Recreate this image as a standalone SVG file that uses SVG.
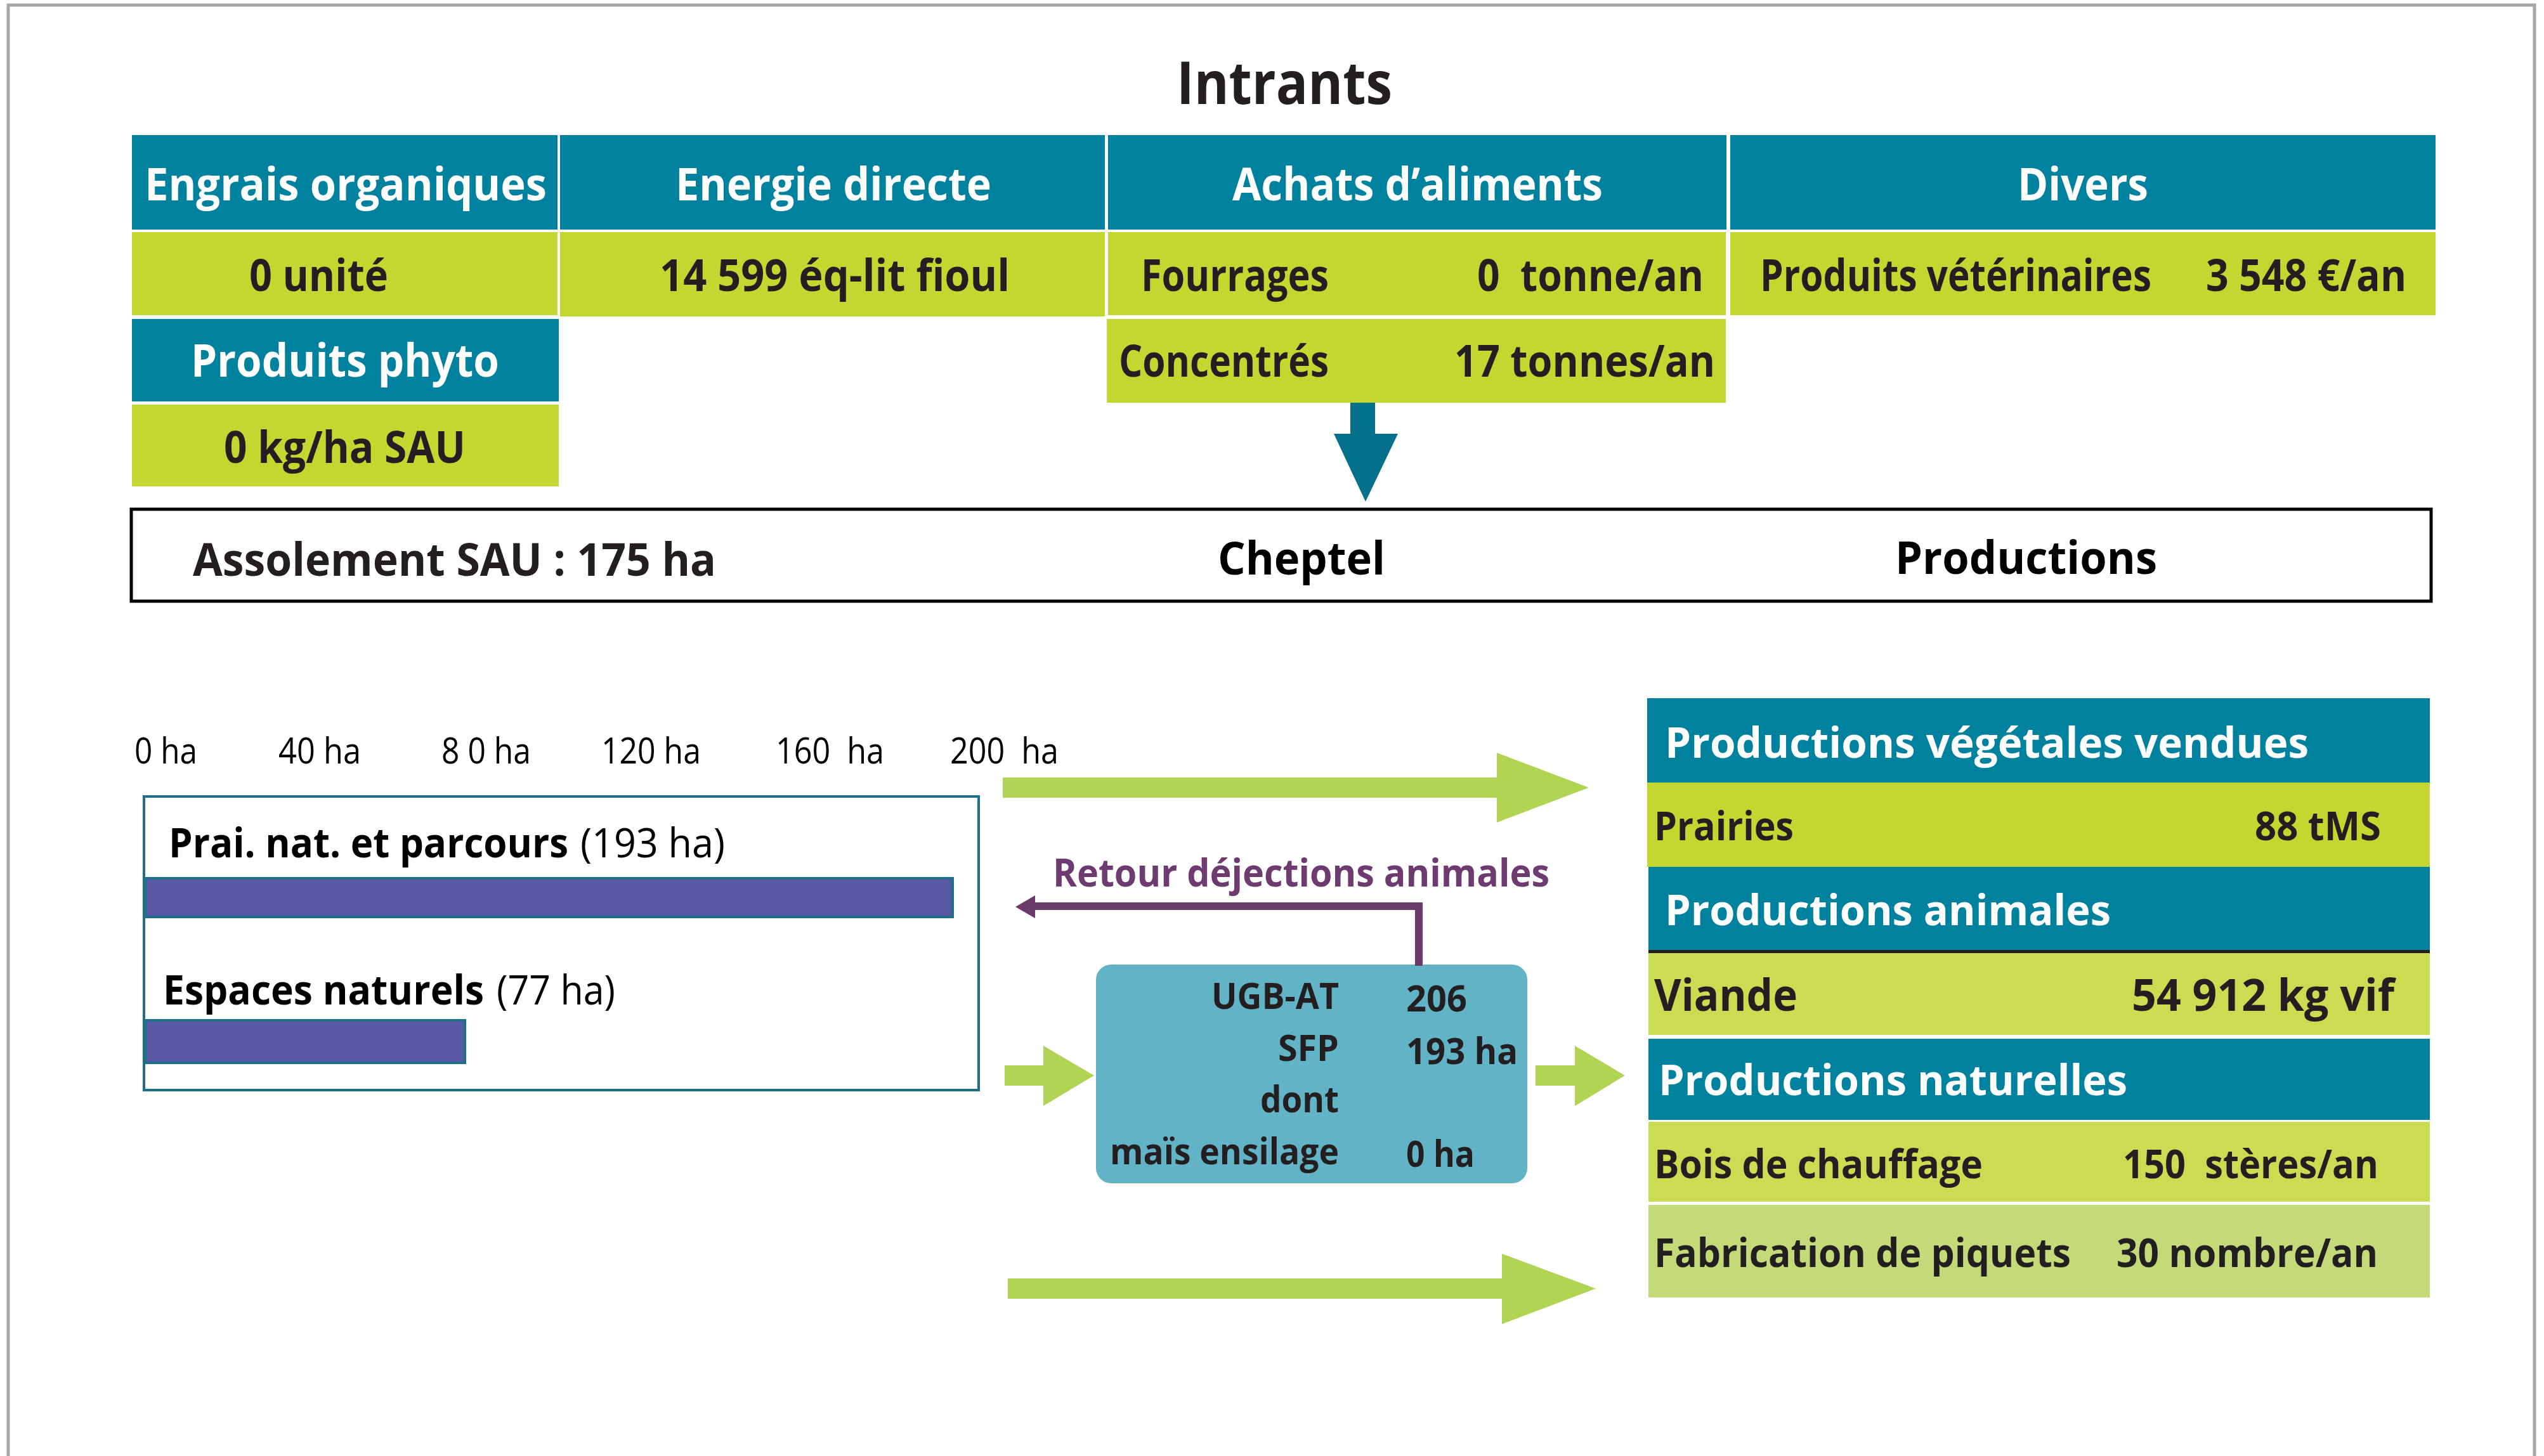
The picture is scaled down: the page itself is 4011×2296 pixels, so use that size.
<svg xmlns="http://www.w3.org/2000/svg" width="4011" height="2296" viewBox="0 0 4011 2296">
<style>
text{font-family:"Open Sans","Noto Sans","DejaVu Sans",sans-serif;fill:#231f20}
.pre{white-space:pre}
.b{font-weight:700}
.r{font-weight:400}
.w{fill:#ffffff}
.hd{fill:#00819e}
.gr{fill:#c2d72f}
.h{font-size:72px;font-weight:700}
.v{font-size:70px;font-weight:700}
.ax{font-size:56px;font-weight:400;fill:#000}
.ch{font-size:57px;font-weight:700}
.pt{font-size:66px;font-weight:700;fill:#fff}
.pv{font-size:62px;font-weight:700}
</style>
<rect x="13" y="8" width="3983" height="2320" fill="#ffffff" stroke="#a7a7ab" stroke-width="5"/>

<g id="title"><text x="2025" y="164" text-anchor="middle" class="b" font-size="94" textLength="340" lengthAdjust="spacingAndGlyphs">Intrants</text></g>

<g id="engrais">
<rect class="hd" x="208" y="213" width="671" height="149"/>
<text class="h w" x="228" y="316" textLength="634" lengthAdjust="spacingAndGlyphs">Engrais organiques</text>
<rect class="gr" x="208" y="366" width="671" height="131"/>
<text class="v" x="393" y="459" textLength="219" lengthAdjust="spacingAndGlyphs">0 unité</text>
</g>
<g id="phyto">
<rect class="hd" x="208" y="503" width="673" height="130"/>
<text class="h w" x="301" y="594" textLength="486" lengthAdjust="spacingAndGlyphs">Produits phyto</text>
<rect class="gr" x="208" y="638" width="673" height="129"/>
<text class="v" x="353" y="730" textLength="381" lengthAdjust="spacingAndGlyphs">0 kg/ha SAU</text>
</g>
<g id="energie">
<rect class="hd" x="883" y="213" width="859" height="149"/>
<text class="h w" x="1065" y="316" textLength="498" lengthAdjust="spacingAndGlyphs">Energie directe</text>
<rect class="gr" x="883" y="366" width="859" height="133"/>
<text class="v" x="1040" y="459" textLength="552" lengthAdjust="spacingAndGlyphs">14 599 éq-lit fioul</text>
</g>
<g id="achats">
<rect class="hd" x="1747" y="213" width="975" height="149"/>
<text class="h w" x="1943" y="316" textLength="584" lengthAdjust="spacingAndGlyphs">Achats d’aliments</text>
<rect class="gr" x="1747" y="366" width="974" height="131"/>
<text class="v" x="1799" y="459" textLength="296" lengthAdjust="spacingAndGlyphs">Fourrages</text>
<text class="v pre" x="2329" y="459" textLength="357" lengthAdjust="spacingAndGlyphs">0  tonne/an</text>
<rect class="gr" x="1745" y="503" width="976" height="132"/>
<text class="v" x="1764" y="594" textLength="331" lengthAdjust="spacingAndGlyphs">Concentrés</text>
<text class="v" x="2293" y="594" textLength="411" lengthAdjust="spacingAndGlyphs">17 tonnes/an</text>
</g>
<g id="divers">
<rect class="hd" x="2728" y="213" width="1112" height="149"/>
<text class="h w" x="3181" y="316" textLength="206" lengthAdjust="spacingAndGlyphs">Divers</text>
<rect class="gr" x="2728" y="366" width="1112" height="131"/>
<text class="v" x="2775" y="459" textLength="617" lengthAdjust="spacingAndGlyphs">Produits vétérinaires</text>
<text class="v" x="3478" y="459" textLength="316" lengthAdjust="spacingAndGlyphs">3 548 €/an</text>
</g>

<g id="bandeau">
<rect x="207" y="803" width="3626" height="145" fill="none" stroke="#000" stroke-width="5"/>
<text class="h" x="304" y="908" textLength="825" lengthAdjust="spacingAndGlyphs">Assolement SAU : 175 ha</text>
<text class="h" x="1920" y="906" style="fill:#000" textLength="264" lengthAdjust="spacingAndGlyphs">Cheptel</text>
<text class="h" x="2988" y="905" style="fill:#000" textLength="413" lengthAdjust="spacingAndGlyphs">Productions</text>
</g>

<g id="axe">
<text class="ax" x="212" y="1204" textLength="99" lengthAdjust="spacingAndGlyphs">0 ha</text>
<text class="ax" x="439" y="1204" textLength="130" lengthAdjust="spacingAndGlyphs">40 ha</text>
<text class="ax" x="696" y="1204" textLength="141" lengthAdjust="spacingAndGlyphs">8 0 ha</text>
<text class="ax" x="948" y="1204" textLength="157" lengthAdjust="spacingAndGlyphs">120 ha</text>
<text class="ax pre" x="1223" y="1204" textLength="171" lengthAdjust="spacingAndGlyphs">160  ha</text>
<text class="ax pre" x="1498" y="1204" textLength="171" lengthAdjust="spacingAndGlyphs">200  ha</text>
</g>

<g id="assolement">
<rect x="227" y="1256" width="1316" height="463" fill="#fff" stroke="#1f6f8b" stroke-width="4"/>
<text x="266" y="1352" font-size="64" style="fill:#000"><tspan class="b" textLength="630" lengthAdjust="spacingAndGlyphs">Prai. nat. et parcours</tspan><tspan class="r" x="915" textLength="228" lengthAdjust="spacingAndGlyphs">(193 ha)</tspan></text>
<rect x="229" y="1385" width="1273" height="61" fill="#5858a3" stroke="#1f6f8b" stroke-width="4"/>
<text x="257" y="1584" font-size="64" style="fill:#000"><tspan class="b" textLength="506" lengthAdjust="spacingAndGlyphs">Espaces naturels</tspan><tspan class="r" x="783" textLength="187" lengthAdjust="spacingAndGlyphs">(77 ha)</tspan></text>
<rect x="229" y="1609" width="504" height="67" fill="#5858a3" stroke="#1f6f8b" stroke-width="4"/>
</g>

<g id="cheptel">
<rect x="1728" y="1521" width="680" height="345" rx="24" ry="24" fill="#62b3c6"/>
<text class="ch" x="2111" y="1591" text-anchor="end" textLength="201" lengthAdjust="spacingAndGlyphs">UGB-AT</text>
<text class="ch" x="2217" y="1595" textLength="96" lengthAdjust="spacingAndGlyphs">206</text>
<text class="ch" x="2111" y="1673" text-anchor="end" textLength="96" lengthAdjust="spacingAndGlyphs">SFP</text>
<text class="ch" x="2217" y="1678" textLength="176" lengthAdjust="spacingAndGlyphs">193 ha</text>
<text class="ch" x="2111" y="1754" text-anchor="end" textLength="124" lengthAdjust="spacingAndGlyphs">dont</text>
<text class="ch" x="2111" y="1836" text-anchor="end" textLength="361" lengthAdjust="spacingAndGlyphs">maïs ensilage</text>
<text class="ch" x="2217" y="1840" textLength="108" lengthAdjust="spacingAndGlyphs">0 ha</text>
</g>

<g id="productions">
<rect class="hd" x="2597" y="1101" width="1234" height="133"/>
<text class="pt" x="2625" y="1195" textLength="1015" lengthAdjust="spacingAndGlyphs">Productions végétales vendues</text>
<rect class="gr" x="2597" y="1234" width="1234" height="133"/>
<text class="pv" x="2608" y="1325" textLength="220" lengthAdjust="spacingAndGlyphs">Prairies</text>
<text class="pv" x="3555" y="1325" textLength="199" lengthAdjust="spacingAndGlyphs">88 tMS</text>
<rect class="hd" x="2599" y="1367" width="1232" height="132"/>
<text class="pt" x="2625" y="1459" textLength="703" lengthAdjust="spacingAndGlyphs">Productions animales</text>
<rect x="2599" y="1498" width="1232" height="5" fill="#231f20"/>
<rect x="2599" y="1503" width="1232" height="129" fill="#c9dc52"/>
<text class="b" font-size="70" x="2608" y="1594" textLength="226" lengthAdjust="spacingAndGlyphs">Viande</text>
<text class="b" font-size="70" x="3361" y="1594" textLength="414" lengthAdjust="spacingAndGlyphs">54 912 kg vif</text>
<rect class="hd" x="2599" y="1638" width="1232" height="128"/>
<text class="pt" x="2615" y="1727" textLength="739" lengthAdjust="spacingAndGlyphs">Productions naturelles</text>
<rect x="2599" y="1769" width="1232" height="126" fill="#c9dc52"/>
<text class="pv" x="2608" y="1858" textLength="518" lengthAdjust="spacingAndGlyphs">Bois de chauffage</text>
<text class="pv pre" x="3347" y="1858" textLength="403" lengthAdjust="spacingAndGlyphs">150  stères/an</text>
<rect x="2599" y="1900" width="1232" height="146" fill="#c4da78"/>
<text class="pv" x="2608" y="1998" textLength="657" lengthAdjust="spacingAndGlyphs">Fabrication de piquets</text>
<text class="pv" x="3337" y="1998" textLength="412" lengthAdjust="spacingAndGlyphs">30 nombre/an</text>
</g>

<g id="connectors">
<path d="M2129,635 H2168 V684 H2204 L2153,791 L2103,684 H2129 Z" fill="#03708c"/>
<path d="M1581,1226 H2360 V1187 L2505,1242 L2360,1297 V1258 H1581 Z" fill="#b2d455"/>
<path d="M1584,1680 H1645 V1649 L1725,1696 L1645,1744 V1712 H1584 Z" fill="#b2d455"/>
<path d="M2421,1680 H2483 V1649 L2562,1696 L2483,1744 V1712 H2421 Z" fill="#b2d455"/>
<path d="M1589,2016 H2368 V1977 L2516,2032 L2368,2088 V2048 H1589 Z" fill="#b2d455"/>
<path d="M2237,1523 V1429 H1632" fill="none" stroke="#6b3a6b" stroke-width="12"/>
<path d="M1632,1412 L1601,1430 L1632,1448 Z" fill="#6b3a6b"/>
<text class="b" font-size="61" x="1660" y="1398" style="fill:#6e3b70" textLength="783" lengthAdjust="spacingAndGlyphs">Retour déjections animales</text>
</g>
</svg>
